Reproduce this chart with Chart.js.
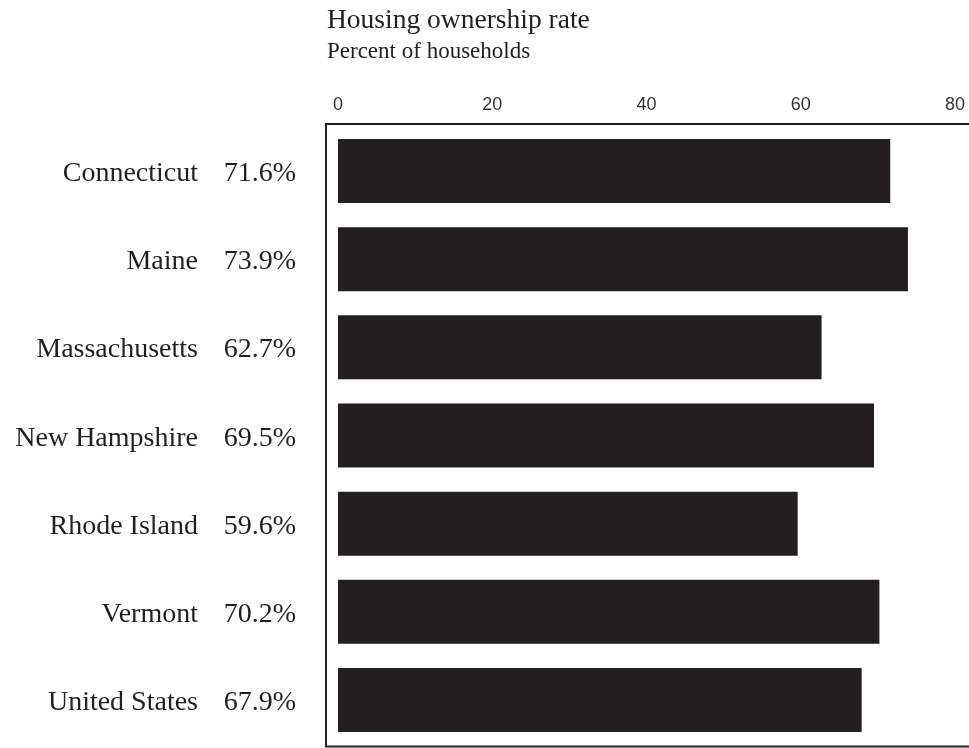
<!DOCTYPE html>
<html>
<head>
<meta charset="utf-8">
<script src="https://cdn.jsdelivr.net/npm/chart.js@4"></script>
<style>
  html, body { margin: 0; padding: 0; background: #ffffff; }
  canvas { display: block; }
</style>
</head>
<body>
<canvas id="chart" width="969" height="748"></canvas>
<script>
const categories = ["Connecticut", "Maine", "Massachusetts", "New Hampshire", "Rhode Island", "Vermont", "United States"];
const ownershipRate = [71.6, 73.9, 62.7, 69.5, 59.6, 70.2, 67.9];
const xTicks = [0, 20, 40, 60, 80];
const titleText = "Housing ownership rate";
const subtitleText = "Percent of households";

const INK = "#231f20";
const SERIF = "'Liberation Serif', 'Times New Roman', serif";

const decorations = {
  id: "decorations",
  afterDraw(chart) {
    const ctx = chart.ctx;
    const area = chart.chartArea;
    const y = chart.scales.y;
    ctx.save();
    // title & subtitle
    ctx.fillStyle = INK;
    ctx.textAlign = "left";
    ctx.textBaseline = "alphabetic";
    ctx.font = "27.5px " + SERIF;
    ctx.fillText(titleText, 327, 28);
    ctx.font = "23px " + SERIF;
    ctx.fillText(subtitleText, 327, 58);
    // row labels: name and value columns
    ctx.font = "28px " + SERIF;
    ctx.textAlign = "right";
    categories.forEach((name, i) => {
      const cy = y.getPixelForValue(i) + 10;
      ctx.fillText(name, 198, cy);
      ctx.fillText(ownershipRate[i].toFixed(1) + "%", 296, cy);
    });
    // frame
    ctx.strokeStyle = INK;
    ctx.lineWidth = 2;
    ctx.beginPath();
    ctx.moveTo(chart.width, area.top - 3);
    ctx.lineTo(area.left - 12, area.top - 3);
    ctx.lineTo(area.left - 12, area.bottom + 2.5);
    ctx.lineTo(chart.width, area.bottom + 2.5);
    ctx.stroke();
    ctx.restore();
  }
};

new Chart(document.getElementById("chart"), {
  type: "bar",
  data: {
    labels: categories,
    datasets: [{
      data: ownershipRate,
      backgroundColor: INK,
      borderWidth: 0,
      barPercentage: 0.726,
      categoryPercentage: 1.0
    }]
  },
  options: {
    indexAxis: "y",
    responsive: false,
    animation: false,
    layout: { padding: { left: 338, right: 14, top: 87, bottom: 4 } },
    plugins: { legend: { display: false }, tooltip: { enabled: false }, title: { display: false } },
    scales: {
      x: {
        position: "top",
        min: 0,
        max: 80,
        afterBuildTicks(scale) { scale.ticks = xTicks.map(v => ({ value: v })); },
        afterFit(scale) {
          scale.height = 40;
          scale.paddingLeft = 0;
          scale.paddingRight = 0;
        },
        ticks: {
          padding: 11,
          color: "#333333",
          font: { family: "'Liberation Sans', Arial, sans-serif", size: 18 }
        },
        grid: { display: false, drawTicks: false },
        border: { display: false }
      },
      y: { display: false }
    }
  },
  plugins: [decorations]
});
</script>
</body>
</html>
